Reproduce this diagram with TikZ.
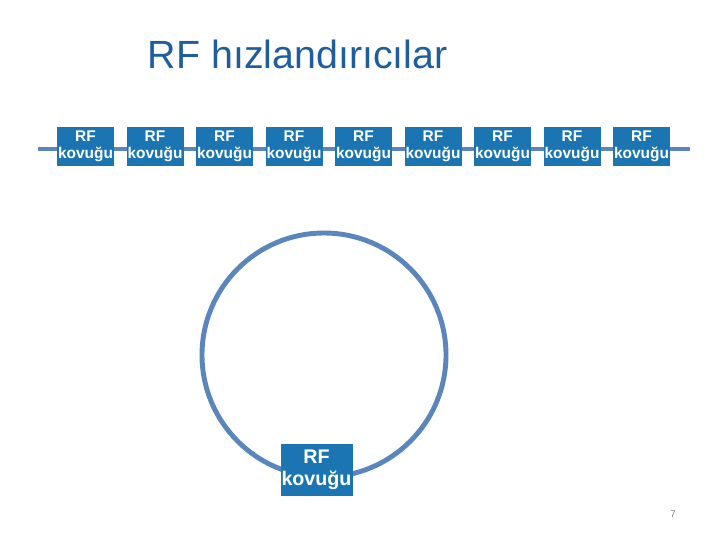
\documentclass[tikz,border=0pt]{standalone}
\usepackage{fontspec}
\setmainfont{Liberation Sans}
\definecolor{cavblue}{HTML}{1B75B3}
\definecolor{beamline}{HTML}{5B86BD}
\definecolor{titleblue}{HTML}{1F5E9E}
\tikzset{
  cavity/.style={fill=cavblue,text=white,font=\bfseries\fontsize{11}{12}\selectfont,
    minimum width=57\px,minimum height=39\px,inner sep=0pt,align=center},
  beam/.style={draw=beamline,line width=3.5pt}
}
\newlength{\px}\setlength{\px}{0.025cm}
\begin{document}
\begin{tikzpicture}[x=0.025cm,y=-0.025cm]
  \useasboundingbox (0,0) rectangle (720,540);
  % title
  \node (title) [anchor=base west,text=titleblue,font=\fontsize{28}{30}\selectfont] at (143,68) {RF hızlandırıcılar};
  % linear arrangement
  \coordinate (lstart) at (38,149);
  \coordinate (lend) at (690,149);
  \draw[beam] (lstart) -- (lend);
  \foreach \i in {0,...,8}
    \node (cav\i) [cavity] at (85.5+69.5*\i,146.5) {RF\\kovuğu};
  % circular arrangement
  \node (ring) [draw=beamline,line width=3.5pt,circle,minimum size=244\px,inner sep=0pt] at (324,355) {};
  \node (ringcav) [cavity,minimum width=72\px,minimum height=52\px,font=\bfseries\fontsize{14}{16}\selectfont] at (316.5,470) {RF\\kovuğu};
  % page number
  \node (page) [text=gray,font=\fontsize{7}{8}\selectfont] at (673,514) {7};
\end{tikzpicture}
\end{document}
